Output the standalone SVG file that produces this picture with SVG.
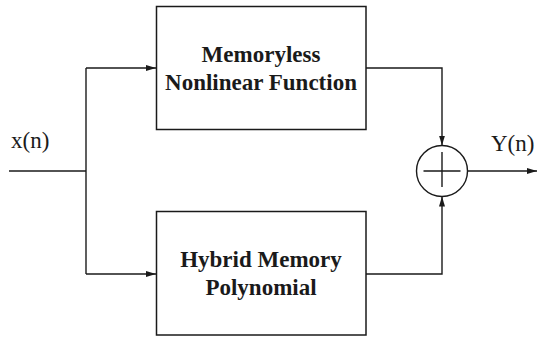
<svg xmlns="http://www.w3.org/2000/svg" width="539" height="338" viewBox="0 0 539 338">
<defs>
<style>
.box{fill:#fff;stroke:#1a1a1a;stroke-width:1.5}
.ln{fill:none;stroke:#1a1a1a;stroke-width:1.4}
.lbl{font-family:"Liberation Serif","Times New Roman",serif;font-weight:bold;font-size:23px;fill:#1a1a1a;text-anchor:middle}
.sig{font-family:"Liberation Serif","Times New Roman",serif;font-size:23px;fill:#1a1a1a}
</style>
<marker id="arr" markerWidth="10" markerHeight="8" refX="10" refY="4" orient="auto" markerUnits="userSpaceOnUse">
<path d="M0,1 L10,4 L0,7 Z" fill="#1a1a1a"/>
</marker>
</defs>
<rect width="539" height="338" fill="#fff"/>
<g id="connectors">
<path class="ln" d="M9,171 H86"/>
<path class="ln" d="M86,68 V274"/>
<path class="ln" d="M86,68 H156" marker-end="url(#arr)"/>
<path class="ln" d="M86,274 H156" marker-end="url(#arr)"/>
<path class="ln" d="M366,68 H442 V145.5" marker-end="url(#arr)"/>
<path class="ln" d="M366,274 H442 V196.5" marker-end="url(#arr)"/>
<path class="ln" d="M467.5,171 H537" marker-end="url(#arr)"/>
</g>
<g id="memoryless">
<rect class="box" x="156.5" y="6.5" width="209.5" height="123"/>
<text class="lbl" x="261" y="61.5">Memoryless</text>
<text class="lbl" x="261" y="89.5">Nonlinear Function</text>
</g>
<g id="hybrid">
<rect class="box" x="156.5" y="211.5" width="209.5" height="123.5"/>
<text class="lbl" x="261" y="266.5">Hybrid Memory</text>
<text class="lbl" x="261" y="295">Polynomial</text>
</g>
<g id="sum">
<circle class="ln" cx="442" cy="171" r="25.5"/>
<path class="ln" d="M423.5,171 H460.5 M442,152 V187"/>
</g>
<g id="labels">
<text class="sig" x="11" y="148">x(n)</text>
<text class="sig" x="491" y="150.5">Y(n)</text>
</g>
</svg>
